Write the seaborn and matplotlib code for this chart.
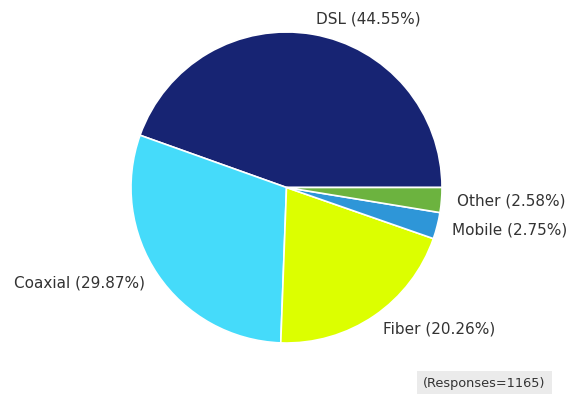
import matplotlib
matplotlib.use("Agg")
import matplotlib.pyplot as plt
import seaborn as sns

categories = ["DSL", "Coaxial", "Fiber", "Mobile", "Other"]
shares = [44.55, 29.87, 20.26, 2.75, 2.58]
colors = ["#172473", "#45dbfa", "#dcff00", "#2e96d8", "#6cb33f"]
responses = 1165

sns.set_theme(style="white")
plt.rcParams["font.family"] = ["DejaVu Sans"]

fig = plt.figure(figsize=(5.71, 3.94), dpi=100)
ax = fig.add_axes([0.0, 0.0, 1.0, 1.0])

labels = [f"{c} ({v:.2f}%)" for c, v in zip(categories, shares)]
wedges, texts = ax.pie(
    shares,
    labels=labels,
    colors=sns.color_palette(colors),
    startangle=0,
    counterclock=True,
    labeldistance=1.1,
    wedgeprops=dict(edgecolor="white", linewidth=1.2),
    textprops=dict(fontsize=11, color="#333333"),
    radius=1.0,
)
ax.set_aspect("equal")
# pie centre and radius in pixels
r_px = 155.5
cx, cy = 286.5, 187.5
W, H = 571, 394
ax.set_xlim(-cx / r_px, (W - cx) / r_px)
ax.set_ylim(-(H - cy) / r_px, cy / r_px)

fig.text(
    484.5 / W, 1 - 383 / H, f"(Responses={responses})",
    ha="center", va="center", fontsize=9.3, color="#333333",
    bbox=dict(boxstyle="square,pad=0.45", facecolor="#ebebeb", edgecolor="none"),
)

fig.savefig("out.png", dpi=100)
